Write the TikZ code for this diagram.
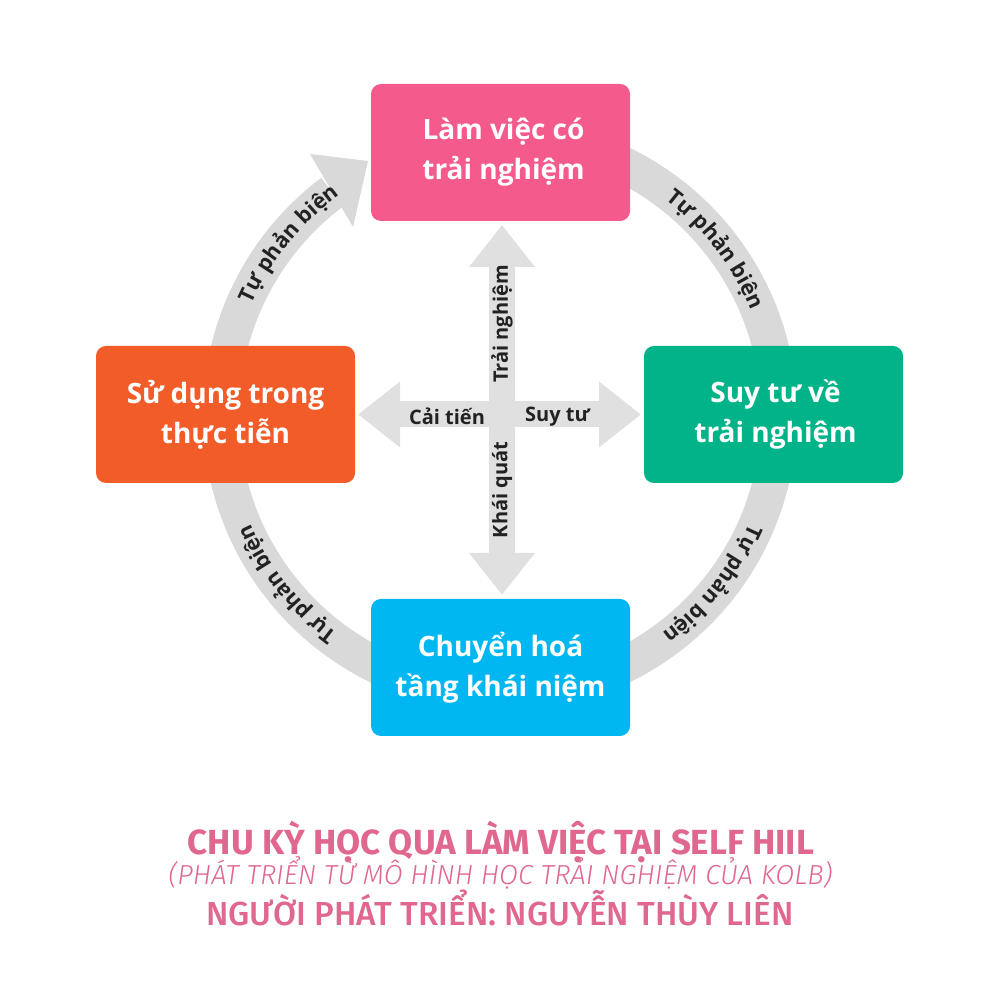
\documentclass[tikz,border=0pt]{standalone}
\usepackage{fontspec}
\setmainfont{Open Sans}
\newfontfamily\titlefont{Fira Sans}[BoldFont={Fira Sans Bold}]
\newfontfamily\titlemed{Fira Sans Medium}
\newfontfamily\titlelight{Fira Sans Light}[ItalicFont={Fira Sans Light Italic}]
\usetikzlibrary{arrows.meta,decorations.text}
\newcommand{\lab}{\fontsize{20}{23}\selectfont\bfseries}
\newcommand{\ringlab}{\fontsize{21.5}{24}\selectfont\bfseries}
\definecolor{ringgray}{HTML}{D9D9D9}
\definecolor{crossgray}{HTML}{E0E0E0}
\definecolor{titlepink}{HTML}{E0678E}
\definecolor{labink}{HTML}{222222}
\tikzset{
  x=1pt,y=1pt,
  stage/.style={rounded corners=10pt,minimum width=259pt,minimum height=137pt,inner sep=0pt,text=white,align=center,font=\fontsize{28}{40}\selectfont\bfseries},
  ringband/.style={draw=ringgray,line width=36pt},
  crossarrow/.style={draw=crossgray,line width=26pt,-{Triangle[length=42pt,width=63pt,fill=crossgray]}},
  crosslabel/.style={text=labink,inner sep=0pt,font=\lab},
  ringlabel/.style={decorate,decoration={text along path,text color=labink,text align=center,text={|\ringlab|Tự phản biện}}},
}
\begin{document}
\begin{tikzpicture}
\useasboundingbox (0,0) rectangle (1000,1000);
\fill[white] (0,0) rectangle (1000,1000);
\coordinate (c) at (500,585);
\coordinate (x) at (502,585);
% ring
\draw[ringband] ([shift={(127:279)}]c) arc[start angle=127,end angle=430,radius=279];
\coordinate (ha) at (310,846);
\coordinate (hb) at (368,839);
\coordinate (hc) at (353,773);
\fill[ringgray] (ha) -- (hb) -- (hc) -- cycle;
% boxes
\node[stage,fill={rgb,255:red,244;green,91;blue,140}] (top) at (500.5,847.5) {\hspace*{6pt}Làm việc có\\\hspace*{6pt}trải nghiệm};
\node[stage,fill={rgb,255:red,0;green,179;blue,136}] (right) at (773.5,585.5) {\hspace*{4pt}Suy tư về\\\hspace*{4pt}trải nghiệm};
\node[stage,fill={rgb,255:red,242;green,92;blue,41}] (left) at (225.5,585.5) {Sử dụng trong\\thực tiễn};
\node[stage,fill={rgb,255:red,0;green,183;blue,241}] (bottom) at (500.5,332.5) {Chuyển hoá\\tầng khái niệm};
% cross
\coordinate (tt) at (502,775);
\coordinate (tb) at (502,405);
\coordinate (tl) at (358,585.5);
\coordinate (tr) at (641,585.5);
\draw[crossarrow] (x) -- (tt);
\draw[crossarrow] (x) -- (tb);
\draw[crossarrow] (502,585.5) -- (tl);
\draw[crossarrow] (502,585.5) -- (tr);
\node[crosslabel,rotate=90] (l1) at (502,676) {Trải nghiệm};
\node[crosslabel,rotate=90] (l2) at (502,510) {Khái quát};
\node[crosslabel] (l3) at (447,583.5) {Cải tiến};
\node[crosslabel] (l4) at (557.5,583.5) {Suy tư};
% ring labels
\path[ringlabel] ([shift={(85:272)}]c) arc[start angle=85,end angle=-10,radius=272];
\path[ringlabel] ([shift={(9:272)}]c) arc[start angle=9,end angle=-86,radius=272];
\path[ringlabel] ([shift={(266:272)}]c) arc[start angle=266,end angle=171,radius=272];
\path[ringlabel] ([shift={(188.5:272)}]c) arc[start angle=188.5,end angle=93.5,radius=272];
% title
\node[text=titlepink,font=\titlefont\fontsize{34.9}{36}\selectfont\bfseries] (t1) at (501,158) {CHU KỲ HỌC QUA LÀM VIỆC TẠI SELF HIIL};
\node[text=titlepink,font=\titlelight\fontsize{27.5}{30}\selectfont\itshape] (t2) at (500.5,127) {(PHÁT TRIỂN TỪ MÔ HÌNH HỌC TRẢI NGHIỆM CỦA KOLB)};
\node[text=titlepink,font=\titlemed\fontsize{33.3}{36}\selectfont] (t3) at (500,92) {NGƯỜI PHÁT TRIỂN: NGUYỄN THÙY LIÊN};
\end{tikzpicture}
\end{document}
